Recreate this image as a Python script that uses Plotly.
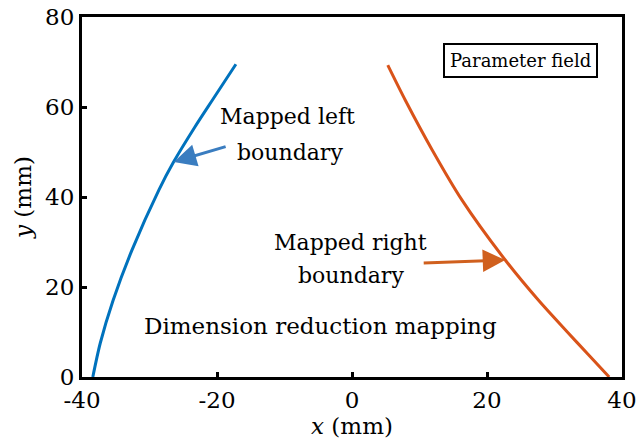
import plotly.graph_objects as go

# Data
left_x = [-38.4, -37.3, -35.4, -32.6, -28.6, -26.5, -23.3, -20.7, -17.2]
left_y = [0.0, 7.5, 17.0, 28.2, 41.6, 47.6, 55.5, 61.5, 69.5]
right_x = [5.3, 7.9, 11.9, 16.3, 22.7, 27.6, 31.9, 35.0, 38.1]
right_y = [69.3, 61.5, 50.4, 39.3, 26.0, 17.1, 10.0, 5.0, 0.0]

x_ticks = [-40, -20, 0, 20, 40]
x_tick_text = ["-40", "-20", "0", "20", "40"]
y_ticks = [0, 20, 40, 60, 80]
y_tick_text = ["0", "20", "40", "60", "80"]

blue = "#0072BD"
orange = "#D95319"
font = "DejaVu Serif"
fs = 22

fig = go.Figure()
fig.add_trace(go.Scatter(x=left_x, y=left_y, mode="lines",
                         line=dict(color=blue, width=3, shape="spline", smoothing=0.8), showlegend=False))
fig.add_trace(go.Scatter(x=right_x, y=right_y, mode="lines",
                         line=dict(color=orange, width=3, shape="spline", smoothing=0.8), showlegend=False))

ann = []
ann.append(dict(x=-26.4, y=47.8, ax=-18.5, ay=51.3, xref="x", yref="y", axref="x", ayref="y",
                text="", showarrow=True, arrowhead=2, arrowsize=1.5, arrowwidth=3, arrowcolor="#3A7DC0", standoff=0))
ann.append(dict(x=22.7, y=26.0, ax=10.4, ay=25.3, xref="x", yref="y", axref="x", ayref="y",
                text="", showarrow=True, arrowhead=2, arrowsize=1.5, arrowwidth=3, arrowcolor="#D0601E", standoff=0))

def txt(x, y, s, size=fs):
    ann.append(dict(x=x, y=y, xref="x", yref="y", text=s, showarrow=False,
                    font=dict(family=font, size=size, color="black")))

txt(-9.6, 57.8, "Mapped left")
txt(-9.2, 49.8, "boundary")
txt(-0.2, 30.0, "Mapped right")
txt(-0.2, 22.6, "boundary")
txt(-4.6, 11.3, "Dimension reduction mapping", 23)
ann.append(dict(x=24.9, y=70.4, xref="x", yref="y", text="Parameter field", showarrow=False,
                font=dict(family=font, size=18, color="black"), bordercolor="black", borderwidth=2, borderpad=5,
                bgcolor="white"))

fig.update_layout(
    width=640, height=443,
    margin=dict(l=82, r=18, t=17, b=66, autoexpand=False),
    paper_bgcolor="white", plot_bgcolor="white",
    font=dict(family=font, size=fs, color="black"),
    annotations=ann,
    xaxis=dict(range=[-40, 40], tickvals=x_ticks, ticktext=x_tick_text, showgrid=False, zeroline=False,
               showline=True, linecolor="black", linewidth=3, mirror=True, automargin=False,
               ticks="inside", ticklen=5, tickwidth=3, tickcolor="black",
               tickfont=dict(family=font, size=23),
               title=dict(text="<i>x</i> (mm)", standoff=4, font=dict(family=font, size=23))),
    yaxis=dict(range=[0, 80], tickvals=y_ticks, ticktext=y_tick_text, showgrid=False, zeroline=False,
               showline=True, linecolor="black", linewidth=3, mirror=True, automargin=False,
               ticks="inside", ticklen=5, tickwidth=3, tickcolor="black",
               tickfont=dict(family=font, size=23),
               title=dict(text="<i>y</i> (mm)", standoff=8, font=dict(family=font, size=23))),
)

fig.write_html("out.html")
